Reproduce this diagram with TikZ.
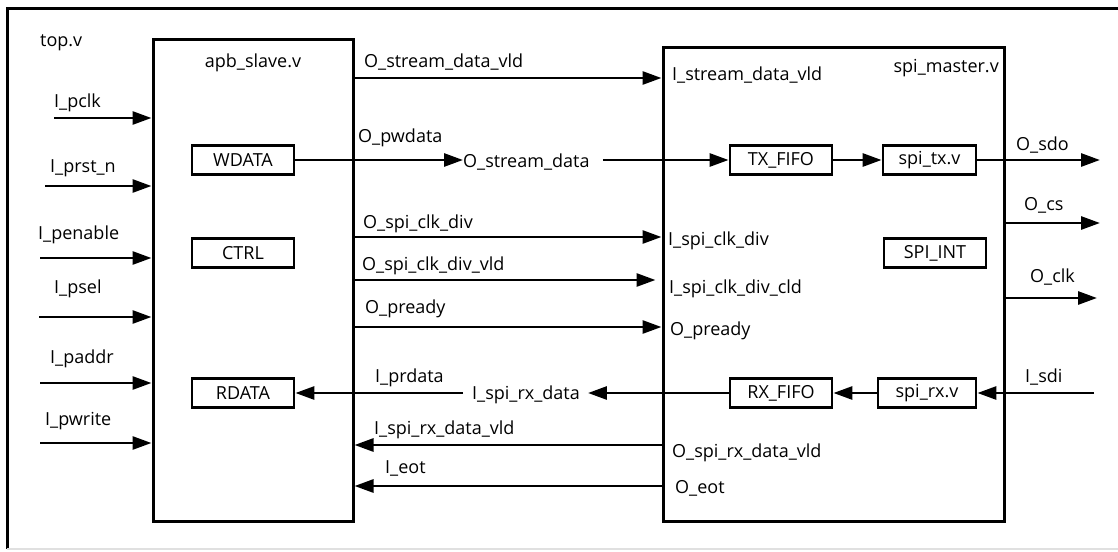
\documentclass[tikz,border=0pt]{standalone}
\usepackage{fontspec}
\setmainfont{Open Sans}
\usetikzlibrary{arrows.meta}
\begin{document}
\begin{tikzpicture}[x=1pt,y=-1pt,
  font=\fontsize{18}{21}\selectfont,
  frame/.style={line width=3pt},
  module/.style={draw, line width=3pt, inner sep=0pt},
  sub/.style={draw, line width=2.8pt, minimum width=102pt, minimum height=29pt, inner sep=0pt},
  wire/.style={line width=2.8pt},
  sig/.style={wire, -{Triangle[length=19pt,width=13pt]}},
  lbl/.style={anchor=base west, inner sep=0pt}]
\useasboundingbox (0,0) rectangle (1118,551);

% top-level frame
\draw[frame] (1118,9) -- (7,9) -- (7,549);
\draw[line width=1.5pt, black!12] (7,549) -- (1118,549);
\node[lbl] (toplbl) at (40,47) {top.v};

% modules
\node[module, minimum width=200pt, minimum height=481pt] (apb) at (253,280.5) {};
\node[module, minimum width=341pt, minimum height=473pt] (spi) at (833.5,284.5) {};
\node[anchor=base, inner sep=0pt] (apblbl) at (253,67) {apb\_slave.v};
\node[anchor=base east, inner sep=0pt] (spilbl) at (999,72) {spi\_master.v};

% sub-blocks
\node[sub] (wdata) at (243,160) {WDATA};
\node[sub] (ctrl) at (243,253) {CTRL};
\node[sub] (rdata) at (243,393) {RDATA};
\node[sub] (txf) at (781,160) {TX\_FIFO};
\node[sub, minimum width=93pt] (stx) at (929.5,160) {spi\_tx.v};
\node[sub] (sint) at (935,253) {SPI\_INT};
\node[sub] (rxf) at (781,393) {RX\_FIFO};
\node[sub, minimum width=98pt] (srx) at (927,393) {spi\_rx.v};

% APB inputs
\coordinate (ipclk) at (54,118);
\coordinate (iprst) at (45,186);
\coordinate (ipen) at (40,258);
\coordinate (ipsel) at (39,317);
\coordinate (ipaddr) at (40,383);
\coordinate (ipwr) at (40,443);
\foreach \c in {ipclk,iprst,ipen,ipsel,ipaddr,ipwr}
  \draw[sig] (\c) -- (\c -| apb.west);
\node[lbl] (lpclk) at (54,107) {I\_pclk};
\node[lbl] (lprst) at (50,172) {I\_prst\_n};
\node[lbl] (lpen) at (38,239) {I\_penable};
\node[lbl] (lpsel) at (54,293) {I\_psel};
\node[lbl] (lpaddr) at (50,363) {I\_paddr};
\node[lbl] (lpwr) at (45,425) {I\_pwrite};

% apb_slave -> spi_master
\coordinate (vld) at (0,78);
\draw[sig] (apb.east |- vld) -- (spi.west |- vld);
\node[lbl] (lvldo) at (364,67) {O\_stream\_data\_vld};
\node[lbl] (lvldi) at (672,80) {I\_stream\_data\_vld};

\node[lbl] (sd) at (463,167) {O\_stream\_data};
\draw[sig] (wdata.east) -- (sd.west |- wdata.east);
\draw[sig] ([xshift=13pt]sd.east |- txf.west) -- (txf.west);
\node[lbl] (lpw) at (358,142) {O\_pwdata};
\draw[sig] (txf.east) -- (stx.west);

\coordinate (cdiv) at (0,237);
\draw[sig] (apb.east |- cdiv) -- (spi.west |- cdiv);
\node[lbl] (lcdivo) at (363,228) {O\_spi\_clk\_div};
\node[lbl] (lcdivi) at (668,245) {I\_spi\_clk\_div};

\coordinate (cvld) at (0,280);
\draw[sig] (apb.east |- cvld) -- ([xshift=-6pt]spi.west |- cvld);
\node[lbl] (lcvldo) at (362,270) {O\_spi\_clk\_div\_vld};
\node[lbl] (lcvldi) at (669,293) {I\_spi\_clk\_div\_cld};

\coordinate (rdy) at (0,327);
\draw[sig] (apb.east |- rdy) -- (spi.west |- rdy);
\node[lbl] (lrdyo) at (365,313) {O\_pready};
\node[lbl] (lrdyi) at (670,335) {O\_pready};

% spi_master -> apb_slave
\node[lbl] (rxd) at (472,399) {I\_spi\_rx\_data};
\draw[sig] (rxf.west) -- ([xshift=8pt]rxd.east |- rxf.west);
\draw[sig] ([xshift=-9pt]rxd.west |- rdata.east) -- (rdata.east);
\node[lbl] (lprd) at (375,382) {I\_prdata};
\draw[sig] (srx.west) -- (rxf.east);

\coordinate (rvld) at (0,445);
\draw[sig] (spi.west |- rvld) -- (apb.east |- rvld);
\node[lbl] (lrvldi) at (374,434) {I\_spi\_rx\_data\_vld};
\node[lbl] (lrvldo) at (672,457) {O\_spi\_rx\_data\_vld};

\coordinate (eot) at (0,486);
\draw[sig] (spi.west |- eot) -- (apb.east |- eot);
\node[lbl] (leoti) at (385,473) {I\_eot};
\node[lbl] (leoto) at (675,493) {O\_eot};

% SPI pins
\coordinate (osdo) at (1100,160);
\draw[sig] (stx.east) -- (osdo);
\node[lbl] (lsdo) at (1016,150) {O\_sdo};
\coordinate (ocs) at (1100,223);
\draw[sig] (spi.east |- ocs) -- (ocs);
\node[lbl] (lcs) at (1024,210) {O\_cs};
\coordinate (oclk) at (1097,298);
\draw[sig] (spi.east |- oclk) -- (oclk);
\node[lbl] (lclk) at (1030,282) {O\_clk};
\coordinate (isdi) at (1094,393);
\draw[sig] (isdi) -- (srx.east);
\node[lbl] (lsdi) at (1025,382) {I\_sdi};
\end{tikzpicture}
\end{document}
